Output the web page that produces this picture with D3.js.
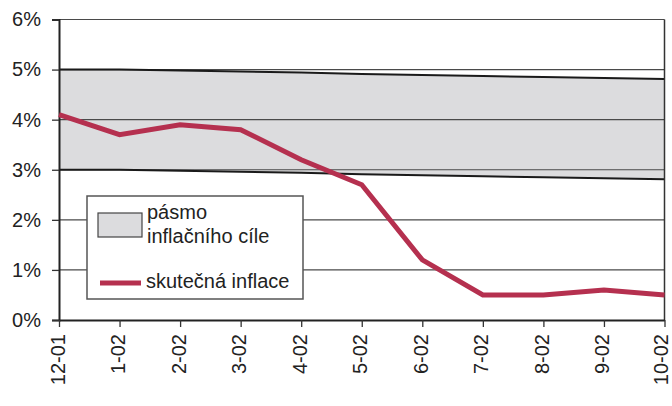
<!DOCTYPE html>
<html><head><meta charset="utf-8">
<script src="https://cdn.jsdelivr.net/npm/d3@7"></script>
<style>html,body{margin:0;padding:0;background:#fff;}svg{display:block;font-family:"Liberation Sans",Arial,Helvetica,sans-serif;}</style>
</head><body>
<script>
const categories = ["12-01","1-02","2-02","3-02","4-02","5-02","6-02","7-02","8-02","9-02","10-02"];
const bandUpper = [5.0, 5.0, 4.98, 4.96, 4.94, 4.91, 4.89, 4.87, 4.85, 4.83, 4.81];
const bandLower = [3.0, 3.0, 2.98, 2.96, 2.94, 2.91, 2.89, 2.87, 2.85, 2.83, 2.81];
const inflation = [4.1, 3.7, 3.9, 3.8, 3.2, 2.7, 1.2, 0.5, 0.5, 0.6, 0.5];
const yTicks = [0,1,2,3,4,5,6];
const legendLabels = ["pásmo", "inflačního cíle", "skutečná inflace"];

const W = 672, H = 406;
const mLeft = 59, mRight = 664.5, mTop = 19.5, mBottom = 320;
const lineColor = "#b5304f";

const svg = d3.select("body").append("svg").attr("width", W).attr("height", H);
const x = d3.scalePoint().domain(categories).range([mLeft, mRight]);
const y = d3.scaleLinear().domain([0, 6]).range([mBottom, mTop]);

const data = categories.map((c, i) => ({c, up: bandUpper[i], lo: bandLower[i], v: inflation[i]}));

// band
svg.append("path").datum(data)
  .attr("d", d3.area().x(d => x(d.c)).y0(d => y(d.lo)).y1(d => y(d.up)))
  .attr("fill", "#dcdcde");

// gridlines
svg.append("g").selectAll("line").data(yTicks.filter(t => t > 0)).join("line")
  .attr("x1", mLeft).attr("x2", mRight).attr("y1", d => y(d)).attr("y2", d => y(d))
  .attr("stroke", "#4a4a4a").attr("stroke-width", 1.1);

// band boundaries
[d => y(d.up), d => y(d.lo)].forEach(f => {
  svg.append("path").datum(data)
    .attr("d", d3.line().x(d => x(d.c)).y(f))
    .attr("fill", "none").attr("stroke", "#1a1a1a").attr("stroke-width", 2);
});

// right border
svg.append("line").attr("x1", mRight).attr("x2", mRight).attr("y1", mTop).attr("y2", mBottom)
  .attr("stroke", "#333").attr("stroke-width", 1.5);

// y axis
const yAxis = d3.axisLeft(y).tickValues(yTicks).tickFormat(d => d + "%").tickSize(7).tickPadding(11);
const gy = svg.append("g").attr("transform", `translate(${mLeft},0)`).call(yAxis);
gy.select(".domain").attr("stroke", "#222").attr("stroke-width", 2);
gy.selectAll(".tick line").attr("stroke", "#333").attr("stroke-width", 1.3);
gy.selectAll(".tick text").attr("font-size", 20).attr("fill", "#222")
  .attr("font-family", "Liberation Sans, Arial, sans-serif");

// x axis
const xAxis = d3.axisBottom(x).tickSize(7).tickSizeOuter(0);
const gx = svg.append("g").attr("transform", `translate(0,${mBottom})`).call(xAxis);
gx.select(".domain").attr("stroke", "#222").attr("stroke-width", 2);
gx.selectAll(".tick line").attr("stroke", "#333").attr("stroke-width", 1.3);
gx.selectAll(".tick text").attr("font-size", 20).attr("fill", "#222")
  .attr("font-family", "Liberation Sans, Arial, sans-serif")
  .attr("transform", "rotate(-90)")
  .attr("text-anchor", "end")
  .attr("x", -14)
  .attr("y", (d, i) => i === categories.length - 1 ? -2.5 : 0)
  .attr("dy", "0.25em");

// legend
const lg = svg.append("g");
lg.append("rect").attr("x", 87).attr("y", 196).attr("width", 216).attr("height", 103)
  .attr("fill", "#fff").attr("stroke", "#555").attr("stroke-width", 1.5);
lg.append("rect").attr("x", 98).attr("y", 213).attr("width", 44).attr("height", 24)
  .attr("fill", "#dcdcde").attr("stroke", "#444").attr("stroke-width", 1.2);
lg.append("text").attr("x", 147).attr("y", 219).attr("font-size", 20).attr("fill", "#222").text(legendLabels[0]);
lg.append("text").attr("x", 147).attr("y", 243).attr("font-size", 20).attr("fill", "#222").text(legendLabels[1]);
lg.append("line").attr("x1", 100).attr("x2", 141).attr("y1", 283).attr("y2", 283)
  .attr("stroke", lineColor).attr("stroke-width", 5);
lg.append("text").attr("x", 146).attr("y", 287.5).attr("font-size", 20).attr("fill", "#222").text(legendLabels[2]);

// inflation line
svg.append("path").datum(data)
  .attr("d", d3.line().x(d => x(d.c)).y(d => y(d.v)))
  .attr("fill", "none").attr("stroke", lineColor).attr("stroke-width", 5)
  .attr("stroke-linejoin", "miter");
</script>
</body></html>
